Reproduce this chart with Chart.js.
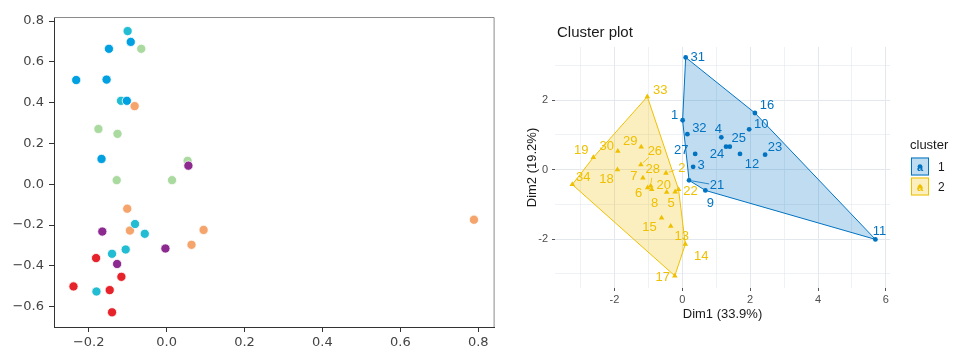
<!DOCTYPE html>
<html>
<head>
<meta charset="utf-8">
<script src="https://cdn.jsdelivr.net/npm/chart.js@4.4.1/dist/chart.umd.min.js"></script>
<style>
  html, body { margin: 0; padding: 0; background: #fff; }
  #wrap { position: relative; width: 955px; height: 352px; overflow: hidden; }
  #scatterChart { position: absolute; left: 0; top: 0; }
  #clusterChart { position: absolute; left: 520px; top: 0; }
</style>
</head>
<body>
<div id="wrap">
  <canvas id="scatterChart" width="500" height="352"></canvas>
  <canvas id="clusterChart" width="435" height="352"></canvas>
</div>
<script>
// ---- left panel: coloured groups ----
const redX = [-0.181, -0.116, -0.239, -0.146, -0.140];
const redY = [-0.362, -0.454, -0.501, -0.519, -0.628];
const orangeX = [-0.082, -0.101, -0.094, 0.095, 0.064, 0.789];
const orangeY = [0.383, -0.120, -0.227, -0.224, -0.297, -0.174];
const greenX = [-0.065, -0.175, -0.126, 0.054, -0.128, 0.014];
const greenY = [0.664, 0.271, 0.247, 0.115, 0.020, 0.020];
const cyanX = [-0.100, -0.117, -0.081, -0.056, -0.140, -0.105, -0.180];
const cyanY = [0.751, 0.409, -0.195, -0.243, -0.341, -0.320, -0.526];
const blueX = [-0.092, -0.148, -0.232, -0.154, -0.102, -0.167];
const blueY = [0.698, 0.664, 0.511, 0.513, 0.409, 0.124];
const purpleX = [0.056, -0.165, -0.003, -0.127];
const purpleY = [0.091, -0.232, -0.315, -0.391];

const leftXTicks = [-0.2, 0.0, 0.2, 0.4, 0.6, 0.8];
const leftYTicks = [-0.6, -0.4, -0.2, 0.0, 0.2, 0.4, 0.6, 0.8];

// ---- right panel: cluster plot ----
const clusterOneIds = ['31', '16', '10', '1', '32', '4', '25', '24', '12', '23', '27', '3', '21', '9', '11'];
const clusterOneX = [0.10, 2.14, 1.97, 0.01, 0.15, 1.15, 1.40, 1.29, 1.70, 2.44, 0.38, 0.32, 0.20, 0.68, 5.69];
const clusterOneY = [3.23, 1.63, 1.16, 1.42, 1.02, 0.93, 0.66, 0.66, 0.45, 0.43, 0.45, 0.08, -0.31, -0.60, -2.01];

const clusterTwoIds = ['33', '19', '30', '29', '26', '18', '7', '28', '2', '34', '6', '8', '20', '5', '22', '15', '13', '14', '17'];
const clusterTwoX = [-1.03, -2.62, -1.90, -1.21, -1.22, -1.91, -1.16, -0.93, -0.48, -3.24, -1.02, -0.90, -0.46, -0.21, -0.11, -0.61, -0.34, 0.09, -0.22];
const clusterTwoY = [2.10, 0.35, 0.53, 0.65, 0.14, 0.00, -0.24, -0.47, -0.10, -0.43, -0.52, -0.57, -0.65, -0.64, -0.57, -1.39, -1.63, -2.15, -3.06];

const clusterXTicks = [-3, -2, -1, 0, 1, 2, 3, 4, 5, 6];
const clusterYTicks = [-3, -2, -1, 0, 1, 2, 3];
const clusterNames = ['1', '2'];

// label placement (pixel offsets from each point, like ggrepel did it)
const oneLabelDx = [12, 12, 12, -8, 12, -3, 9, -9, 12, 10, -14, 8, 28, 5, 4];
const oneLabelDy = [0, -8, -5, -5, -6, -8, -8, 8, 10, -7, -4, -1, 5, 13, -8];
const twoLabelDx = [13, -12, -11, -11, 14, -11, -9, 2, 16, 11, -9, 3, -3, -4, 12, -12, 11, 16, -12];
const twoLabelDy = [-6, -7, -5, -6, -13, 10, -1, -16, -5, -7, 6, 14, -7, 12, 2, 10, 10, 12, 2];
const labelSegments = ['21', '26', '28', '2'];

const toPoints = (xs, ys) => xs.map((x, i) => ({ x: x, y: ys[i] }));

// convex hull (monotone chain), closed for drawing
const hullOf = (pts) => {
  const p = pts.slice().sort((a, b) => a.x - b.x || a.y - b.y);
  const cross = (o, a, b) => (a.x - o.x) * (b.y - o.y) - (a.y - o.y) * (b.x - o.x);
  const lower = [];
  p.forEach(q => {
    while (lower.length >= 2 && cross(lower[lower.length - 2], lower[lower.length - 1], q) <= 0) lower.pop();
    lower.push(q);
  });
  const upper = [];
  p.slice().reverse().forEach(q => {
    while (upper.length >= 2 && cross(upper[upper.length - 2], upper[upper.length - 1], q) <= 0) upper.pop();
    upper.push(q);
  });
  const hull = lower.slice(0, -1).concat(upper.slice(0, -1));
  hull.push(hull[0]);
  return hull;
};

const minus = (s) => s.replace('-', '\u2212');

const groupDataset = (xs, ys, color) => ({
  data: toPoints(xs, ys),
  backgroundColor: color,
  borderColor: '#ffffff',
  borderWidth: 0.8,
  pointRadius: 4.6,
  pointHoverRadius: 4.6
});

const leftBoxPlugin = {
  id: 'leftBox',
  afterDraw(chart) {
    const { ctx, chartArea: a } = chart;
    ctx.save();
    ctx.strokeStyle = '#8a8a8a';
    ctx.lineWidth = 1;
    ctx.beginPath();
    ctx.moveTo(a.left, a.top + 0.5);
    ctx.lineTo(a.right - 0.5, a.top + 0.5);
    ctx.lineTo(a.right - 0.5, a.bottom);
    ctx.stroke();
    ctx.restore();
  }
};

new Chart(document.getElementById('scatterChart'), {
  type: 'scatter',
  data: {
    datasets: [
      groupDataset(purpleX, purpleY, '#8c2a90'),
      groupDataset(blueX, blueY, '#00a0e1'),
      groupDataset(cyanX, cyanY, '#23bdd3'),
      groupDataset(greenX, greenY, '#abdaa0'),
      groupDataset(orangeX, orangeY, '#f5a46c'),
      groupDataset(redX, redY, '#e6232a')
    ]
  },
  options: {
    responsive: false,
    animation: false,
    layout: { padding: { top: 17, right: 4, left: 0, bottom: 0 } },
    plugins: { legend: { display: false }, tooltip: { enabled: false } },
    scales: {
      x: {
        type: 'linear',
        min: -0.289,
        max: 0.842,
        afterFit: (s) => { s.height = 25; },
        afterBuildTicks: (s) => { s.ticks = leftXTicks.map(v => ({ value: v })); },
        grid: { drawOnChartArea: false, tickLength: 5, tickColor: '#333' },
        border: { display: true, color: '#333', width: 1 },
        ticks: {
          color: '#444',
          padding: 3,
          font: { family: '"DejaVu Sans", sans-serif', size: 13 },
          callback: (v) => minus(v.toFixed(1))
        }
      },
      y: {
        type: 'linear',
        min: -0.70,
        max: 0.82,
        afterFit: (s) => { s.width = 54; },
        afterBuildTicks: (s) => { s.ticks = leftYTicks.map(v => ({ value: v })); },
        grid: { drawOnChartArea: false, tickLength: 5, tickColor: '#333' },
        border: { display: true, color: '#333', width: 1 },
        ticks: {
          color: '#444',
          padding: 5,
          font: { family: '"DejaVu Sans", sans-serif', size: 13 },
          callback: (v) => minus(v.toFixed(1))
        }
      }
    }
  },
  plugins: [leftBoxPlugin]
});

// ---- cluster plot ----
const BLUE = '#0073C2';
const YELLOW = '#EFC000';
const BLUE_FILL = 'rgba(0, 115, 194, 0.25)';
const YELLOW_FILL = 'rgba(239, 192, 0, 0.25)';
const FONT = '"Liberation Sans", Arial, sans-serif';

const onePoints = toPoints(clusterOneX, clusterOneY);
const twoPoints = toPoints(clusterTwoX, clusterTwoY);

const clusterDecor = {
  id: 'clusterDecor',
  afterDatasetsDraw(chart) {
    const ctx = chart.ctx;
    ctx.save();
    ctx.font = '13px ' + FONT;
    ctx.textAlign = 'center';
    ctx.textBaseline = 'middle';
    chart.data.datasets.forEach((ds, di) => {
      if (!ds.pointLabels) return;
      const meta = chart.getDatasetMeta(di);
      meta.data.forEach((pt, i) => {
        const dx = ds.labelDx[i];
        const dy = ds.labelDy[i];
        const tx = pt.x + dx;
        const ty = pt.y + dy;
        if (labelSegments.includes(ds.pointLabels[i])) {
          const len = Math.hypot(dx, dy);
          ctx.strokeStyle = ds.labelColor;
          ctx.lineWidth = 0.8;
          ctx.beginPath();
          ctx.moveTo(pt.x + dx / len * 3, pt.y + dy / len * 3);
          ctx.lineTo(tx - dx / len * 8, ty - dy / len * 8);
          ctx.stroke();
        }
        ctx.fillStyle = ds.labelColor;
        ctx.fillText(ds.pointLabels[i], tx, ty);
      });
    });
    ctx.restore();
  },
  afterDraw(chart) {
    const ctx = chart.ctx;
    ctx.save();
    // title
    ctx.fillStyle = '#1a1a1a';
    ctx.font = '15px ' + FONT;
    ctx.textAlign = 'left';
    ctx.textBaseline = 'middle';
    ctx.fillText('Cluster plot', 37, 33);

    // legend
    const lx = 391;
    ctx.font = '13px ' + FONT;
    ctx.fillStyle = '#1a1a1a';
    ctx.fillText('cluster', lx - 1, 145);
    const keys = [
      { color: BLUE, fill: BLUE_FILL, y: 157.5, shape: 'circle' },
      { color: YELLOW, fill: YELLOW_FILL, y: 177.5, shape: 'triangle' }
    ];
    keys.forEach((k, i) => {
      ctx.fillStyle = '#ffffff';
      ctx.fillRect(lx, k.y, 18, 18);
      ctx.fillStyle = k.fill;
      ctx.fillRect(lx, k.y, 18, 18);
      ctx.strokeStyle = k.color;
      ctx.lineWidth = 1;
      ctx.strokeRect(lx + 0.5, k.y + 0.5, 17, 17);
      ctx.fillStyle = k.color;
      ctx.font = 'bold 11px ' + FONT;
      ctx.textAlign = 'center';
      ctx.fillText('a', lx + 9, k.y + 10);
      ctx.beginPath();
      if (k.shape === 'circle') {
        ctx.arc(lx + 9, k.y + 9, 2.3, 0, Math.PI * 2);
      } else {
        ctx.moveTo(lx + 9, k.y + 6);
        ctx.lineTo(lx + 12, k.y + 11);
        ctx.lineTo(lx + 6, k.y + 11);
        ctx.closePath();
      }
      ctx.fill();
      ctx.fillStyle = '#1a1a1a';
      ctx.font = '12px ' + FONT;
      ctx.textAlign = 'left';
      ctx.fillText(clusterNames[i], lx + 27, k.y + 10);
    });
    ctx.restore();
  }
};

new Chart(document.getElementById('clusterChart'), {
  type: 'scatter',
  data: {
    datasets: [
      {
        data: onePoints,
        pointLabels: clusterOneIds,
        labelDx: oneLabelDx,
        labelDy: oneLabelDy,
        labelColor: BLUE,
        pointStyle: 'circle',
        pointRadius: 2.4,
        backgroundColor: BLUE,
        borderColor: BLUE,
        borderWidth: 0,
        order: 1
      },
      {
        data: twoPoints,
        pointLabels: clusterTwoIds,
        labelDx: twoLabelDx,
        labelDy: twoLabelDy,
        labelColor: YELLOW,
        pointStyle: 'triangle',
        pointRadius: 3.2,
        backgroundColor: YELLOW,
        borderColor: YELLOW,
        borderWidth: 0,
        order: 1
      },
      {
        data: hullOf(onePoints),
        showLine: true,
        fill: 'shape',
        backgroundColor: BLUE_FILL,
        borderColor: BLUE,
        borderWidth: 1,
        pointRadius: 0,
        order: 2
      },
      {
        data: hullOf(twoPoints),
        showLine: true,
        fill: 'shape',
        backgroundColor: YELLOW_FILL,
        borderColor: YELLOW,
        borderWidth: 1,
        pointRadius: 0,
        order: 2
      }
    ]
  },
  options: {
    responsive: false,
    animation: false,
    layout: { padding: { top: 47, right: 65, left: 0, bottom: 29 } },
    plugins: { legend: { display: false }, tooltip: { enabled: false } },
    scales: {
      x: {
        type: 'linear',
        min: -3.75,
        max: 6.12,
        afterFit: (s) => { s.height = 35; },
        afterBuildTicks: (s) => { s.ticks = clusterXTicks.map(v => ({ value: v })); },
        grid: {
          color: '#e3e8ee',
          lineWidth: (c) => (c.tick && c.tick.value % 2 === 0 ? 1 : 0.6),
          tickLength: 3,
          tickColor: (c) => (c.tick && c.tick.value % 2 === 0 ? '#555' : 'rgba(0,0,0,0)')
        },
        border: { display: false },
        title: {
          display: true,
          text: 'Dim1 (33.9%)',
          color: '#1a1a1a',
          font: { family: FONT, size: 13 },
          padding: { top: 0, bottom: 1 }
        },
        ticks: {
          autoSkip: false,
          maxRotation: 0,
          color: '#4d4d4d',
          padding: 2,
          font: { family: FONT, size: 11 },
          callback: (v) => (v % 2 === 0 ? String(v) : '')
        }
      },
      y: {
        type: 'linear',
        min: -3.41,
        max: 3.53,
        afterFit: (s) => { s.width = 35; },
        afterBuildTicks: (s) => { s.ticks = clusterYTicks.map(v => ({ value: v })); },
        grid: {
          color: '#e3e8ee',
          lineWidth: (c) => (c.tick && c.tick.value % 2 === 0 ? 1 : 0.6),
          tickLength: 3,
          tickColor: (c) => (c.tick && c.tick.value % 2 === 0 ? '#555' : 'rgba(0,0,0,0)')
        },
        border: { display: false },
        title: {
          display: true,
          text: 'Dim2 (19.2%)',
          color: '#1a1a1a',
          font: { family: FONT, size: 13 },
          padding: { top: 5, bottom: 0 }
        },
        ticks: {
          autoSkip: false,
          color: '#4d4d4d',
          padding: 4,
          font: { family: FONT, size: 11 },
          callback: (v) => (v % 2 === 0 ? String(v) : '')
        }
      }
    }
  },
  plugins: [clusterDecor]
});
</script>
</body>
</html>
